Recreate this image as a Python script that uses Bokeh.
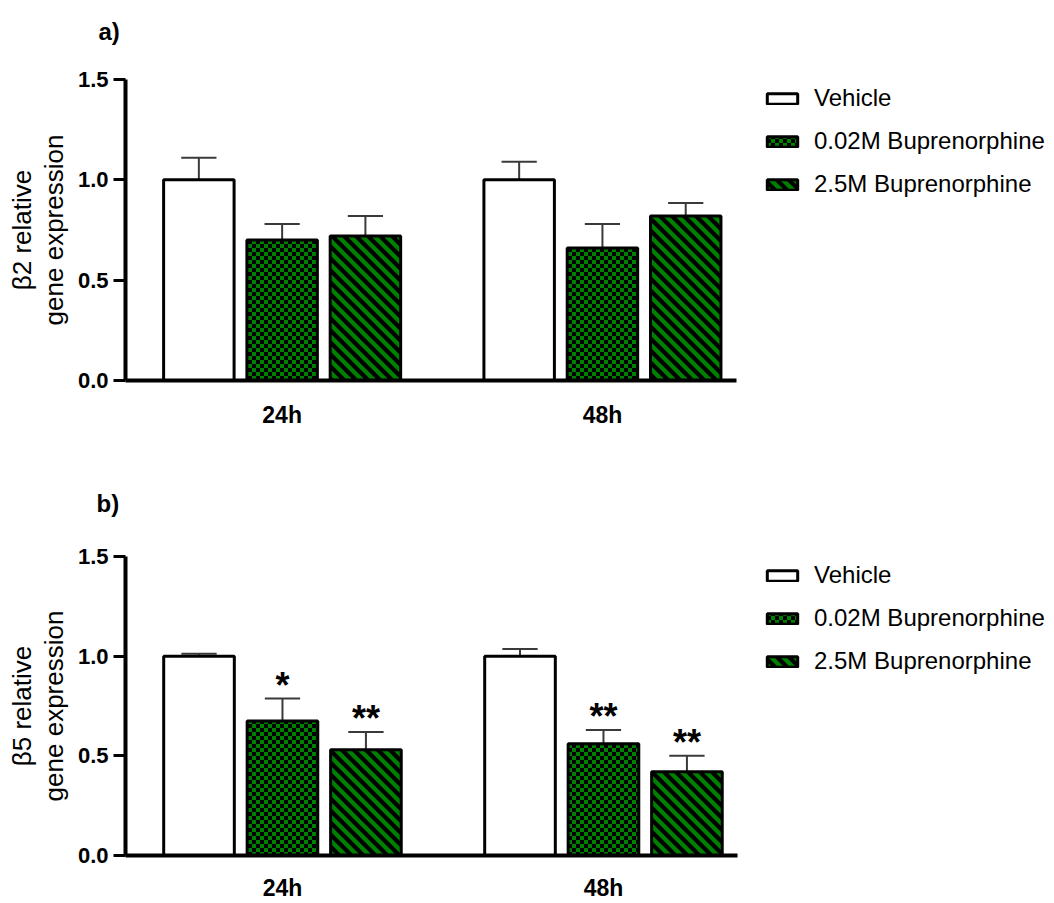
from bokeh.plotting import figure
from bokeh.models import (Range1d, FixedTicker, Legend, LegendItem, Label,
                          CanvasTexture, NumeralTickFormatter)
from bokeh.layouts import column
from bokeh.embed import file_html
from bokeh.resources import INLINE
from bokeh.core.properties import value

# ---------------- data ----------------
groups = ["24h", "48h"]
treatments = ["Vehicle", "0.02M Buprenorphine", "2.5M Buprenorphine"]

# beta2 (panel a): each list = [24h, 48h]
b2_vehicle = [1.00, 1.00]
b2_vehicle_err = [0.11, 0.09]
b2_low = [0.70, 0.66]
b2_low_err = [0.08, 0.12]
b2_high = [0.72, 0.82]
b2_high_err = [0.10, 0.065]

# beta5 (panel b)
b5_vehicle = [1.00, 1.00]
b5_vehicle_err = [0.012, 0.036]
b5_low = [0.675, 0.56]
b5_low_err = [0.112, 0.07]
b5_high = [0.53, 0.42]
b5_high_err = [0.09, 0.08]
b5_vehicle_sig = ["", ""]
b5_low_sig = ["*", "**"]
b5_high_sig = ["**", "**"]

y_ticks = [0.0, 0.5, 1.0, 1.5]

FONT = "Liberation Sans"
GREEN = "#008000"

checker = CanvasTexture(code="""
const c = ctx.canvas;
c.width = 8; c.height = 8;
ctx.setTransform(1, 0, 0, 1, 0, 0);
ctx.fillStyle = "black";
ctx.fillRect(0, 0, 4, 4);
ctx.fillRect(4, 4, 4, 4);
""")

stripes = CanvasTexture(code="""
const c = ctx.canvas;
c.width = 12; c.height = 12;
ctx.setTransform(1, 0, 0, 1, 0, 0);
ctx.strokeStyle = "black";
ctx.lineWidth = 4.2;
ctx.beginPath();
for (const k of [-12, 0, 12]) {
  ctx.moveTo(-3, -3 + k);
  ctx.lineTo(15, 15 + k);
}
ctx.stroke();
""")

styles = [
    dict(fill_color="white"),
    dict(fill_color=GREEN, hatch_pattern=value("checker"), hatch_extra={"checker": checker},
         hatch_color="black", hatch_scale=8),
    dict(fill_color=GREEN, hatch_pattern=value("stripes"), hatch_extra={"stripes": stripes},
         hatch_color="black", hatch_scale=12),
]

offsets = [-0.26, 0.0, 0.26]
BAR_W = 0.22
CAP_W = 0.11
X0 = 0.511
PX_PER_UNIT = 321.0


def make_panel(series, errs, sigs, ylabel, tag, height, top_border, bottom_border,
               left_border, label_standoff, legend_vy, tag_y):
    frame_w = 1054 - left_border
    x_end = X0 + frame_w / PX_PER_UNIT
    p = figure(width=1054, height=height, output_backend="svg", toolbar_location=None,
               x_range=Range1d(X0, x_end), y_range=Range1d(0, 1.5),
               min_border_left=left_border, min_border_right=0,
               min_border_top=top_border, min_border_bottom=bottom_border)
    p.outline_line_color = None
    p.grid.visible = False

    items = []
    for i, (vals, ev, sg) in enumerate(zip(series, errs, sigs)):
        xs = [g + 1 + offsets[i] for g in range(len(groups))]
        tops = [v + e for v, e in zip(vals, ev)]
        # error bars (upper only)
        p.segment(x0=xs, y0=vals, x1=xs, y1=tops, line_color="#3a3a3a", line_width=2)
        p.segment(x0=[x - CAP_W / 2 for x in xs], y0=tops, x1=[x + CAP_W / 2 for x in xs],
                  y1=tops, line_color="#3a3a3a", line_width=2)
        r = p.vbar(x=xs, top=vals, bottom=0, width=BAR_W, line_color="black",
                   line_width=3, **styles[i])
        items.append(LegendItem(label=treatments[i], renderers=[r]))
        if sg is not None:
            p.text(x=xs, y=tops, text=sg, text_align="center", text_baseline="alphabetic",
                   text_font=value(FONT), text_font_style="bold", text_font_size="36px",
                   text_color="black", y_offset=-13)

    legend = Legend(items=items, location=(638, legend_vy), orientation="vertical",
                    padding=0, margin=0, border_line_color=None, background_fill_alpha=0,
                    glyph_width=38, glyph_height=13, label_height=27, spacing=15,
                    label_standoff=13, label_text_font=FONT, label_text_font_size="24px",
                    label_text_color="black")
    p.add_layout(legend, "center")

    # axes
    p.yaxis.ticker = FixedTicker(ticks=y_ticks)
    p.yaxis.formatter = NumeralTickFormatter(format="0.0")
    p.yaxis.axis_label = ylabel
    p.yaxis.axis_label_text_font = FONT
    p.yaxis.axis_label_text_font_style = "normal"
    p.yaxis.axis_label_text_font_size = "26px"
    p.yaxis.axis_label_text_line_height = 1.07
    p.yaxis.axis_label_text_color = "black"
    p.yaxis.axis_label_standoff = 6
    p.yaxis.major_label_text_font = FONT
    p.yaxis.major_label_text_font_style = "bold"
    p.yaxis.major_label_text_font_size = "22px"
    p.yaxis.major_label_text_color = "black"
    p.yaxis.major_label_standoff = 5
    p.yaxis.major_tick_out = 12
    p.yaxis.major_tick_in = 0
    p.yaxis.major_tick_line_width = 3
    p.yaxis.minor_tick_out = 0
    p.yaxis.minor_tick_in = 0
    p.yaxis.axis_line_width = 4

    p.xaxis.ticker = FixedTicker(ticks=[1, 2])
    p.xaxis.bounds = (X0, X0 + 612 / PX_PER_UNIT)
    p.xaxis.major_label_overrides = {1: groups[0], 2: groups[1]}
    p.xaxis.major_label_text_font = FONT
    p.xaxis.major_label_text_font_style = "bold"
    p.xaxis.major_label_text_font_size = "23px"
    p.xaxis.major_label_text_color = "black"
    p.xaxis.major_label_standoff = label_standoff
    p.xaxis.major_tick_out = 0
    p.xaxis.major_tick_in = 0
    p.xaxis.minor_tick_out = 0
    p.xaxis.minor_tick_in = 0
    p.xaxis.axis_line_width = 4

    p.add_layout(Label(text=tag, x=96 - left_border, y=tag_y, x_units="screen",
                       y_units="screen", text_baseline="bottom", text_align="left",
                       text_font=FONT, text_font_style="bold", text_font_size="24px",
                       text_color="black"), "above")
    return p


p1 = make_panel([b2_vehicle, b2_low, b2_high], [b2_vehicle_err, b2_low_err, b2_high_err],
                [None, None, None], "β2 relative\ngene expression", "a)",
                height=444, top_border=79, bottom_border=64, left_border=123,
                label_standoff=21, legend_vy=182, tag_y=35)
p2 = make_panel([b5_vehicle, b5_low, b5_high], [b5_vehicle_err, b5_low_err, b5_high_err],
                [b5_vehicle_sig, b5_low_sig, b5_high_sig], "β5 relative\ngene expression", "b)",
                height=459, top_border=112, bottom_border=46, left_border=125,
                label_standoff=19, legend_vy=180, tag_y=40)

layout = column(p1, p2, spacing=0)
open("out.html", "w").write(file_html(layout, INLINE))
